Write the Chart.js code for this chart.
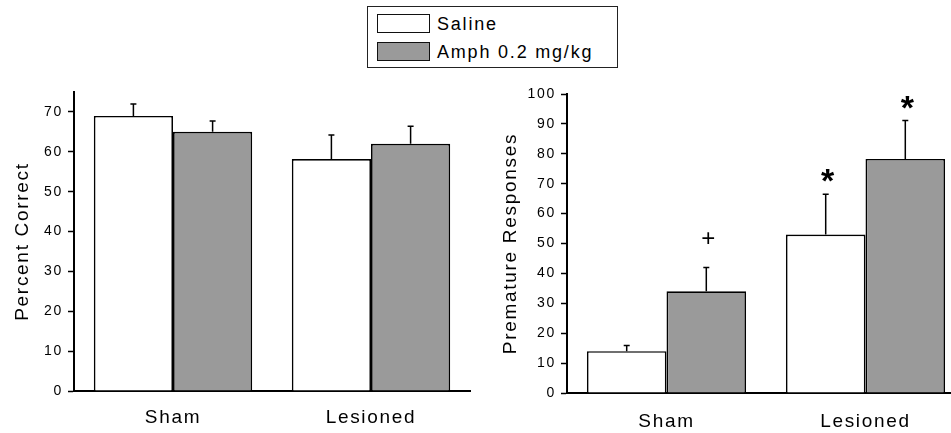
<!DOCTYPE html>
<html>
<head>
<meta charset="utf-8">
<script src="https://cdn.jsdelivr.net/npm/chart.js@4"></script>
<style>
  html, body { margin: 0; padding: 0; background: #fff; }
  body { width: 951px; height: 433px; overflow: hidden; position: relative; font-family: 'Liberation Sans', Arial, sans-serif; }
  canvas { position: absolute; top: 0; }
  #left { left: 0; }
  #right { left: 480px; }
  .legend { position: absolute; left: 367px; top: 6px; width: 249px; height: 60px; border: 1.5px solid #222; background: #fff; }
  .item { position: absolute; left: 9px; height: 20px; font-size: 18px; letter-spacing: 1.8px; color: #000; line-height: 20px; }
  .swatch { position: absolute; left: 0; top: 0; width: 51px; height: 17px; border: 1.5px solid #111; }
  .item span { position: absolute; left: 60px; top: 0; white-space: nowrap; }
</style>
</head>
<body>
<canvas id="left" width="475" height="433"></canvas>
<canvas id="right" width="500" height="433"></canvas>
<div class="legend" id="legend"></div>

<script>
// data
const groups = ['Sham', 'Lesioned'];
const seriesNames = ['Saline', 'Amph 0.2 mg/kg'];
const seriesColors = ['#ffffff', '#9a9a9a'];

// percent correct
const correctSaline = [69, 58.2];
const correctSalineErr = [3, 6];
const correctAmph = [65, 62];
const correctAmphErr = [2.7, 4.4];
const correctTicks = [0, 10, 20, 30, 40, 50, 60, 70];

// premature responses
const prematureSaline = [14, 53];
const prematureSalineErr = [1.9, 13.5];
const prematureAmph = [34, 78.3];
const prematureAmphErr = [8, 12.8];
const prematureTicks = [0, 10, 20, 30, 40, 50, 60, 70, 80, 90, 100];
const prematureSalineMarks = ['', '*'];
const prematureAmphMarks = ['+', '*'];

const FONT = "'Liberation Sans', Arial, sans-serif";

// legend (html)
const legend = document.getElementById('legend');
seriesNames.forEach((name, i) => {
  const item = document.createElement('div');
  item.className = 'item';
  item.style.top = (i === 0 ? 7 : 35) + 'px';
  item.innerHTML = '<div class="swatch" style="background:' + seriesColors[i] + '"></div><span>' + name + '</span>';
  legend.appendChild(item);
});

const markStyle = {
  '+': { font: '24px ' + FONT, lift: 21 },
  '*': { font: 'bold 34px ' + FONT, lift: 2 }
};

const errorBars = {
  id: 'errorBars',
  beforeDraw(chart) {
    chart.ctx.letterSpacing = '1.7px';
  },
  afterDatasetsDraw(chart) {
    const ctx = chart.ctx;
    const y = chart.scales.y;
    chart.data.datasets.forEach((ds, i) => {
      const meta = chart.getDatasetMeta(i);
      meta.data.forEach((bar, j) => {
        const top = y.getPixelForValue(ds.data[j] + ds.errors[j]);
        ctx.save();
        ctx.strokeStyle = '#000';
        ctx.lineWidth = 1.5;
        ctx.beginPath();
        ctx.moveTo(bar.x, bar.y);
        ctx.lineTo(bar.x, top);
        ctx.moveTo(bar.x - 3, top);
        ctx.lineTo(bar.x + 3, top);
        ctx.stroke();
        const m = ds.marks && ds.marks[j];
        if (m) {
          ctx.letterSpacing = '0px';
          ctx.fillStyle = '#000';
          ctx.font = markStyle[m].font;
          ctx.textAlign = 'center';
          ctx.textBaseline = 'alphabetic';
          ctx.fillText(m, bar.x + 2, top - markStyle[m].lift);
        }
        ctx.restore();
      });
    });
  }
};

function makeChart(id, yTitle, saline, salineErr, amph, amphErr, ticks, box) {
  return new Chart(document.getElementById(id), {
    type: 'bar',
    data: {
      labels: groups,
      datasets: [
        { label: seriesNames[0], data: saline, errors: salineErr, marks: box.salineMarks,
          backgroundColor: seriesColors[0], borderColor: '#000', borderWidth: 1.7,
          categoryPercentage: 0.8, barPercentage: 1.0 },
        { label: seriesNames[1], data: amph, errors: amphErr, marks: box.amphMarks,
          backgroundColor: seriesColors[1], borderColor: '#000', borderWidth: 1.7,
          categoryPercentage: 0.8, barPercentage: 1.0 }
      ]
    },
    options: {
      responsive: false,
      animation: false,
      layout: { padding: { left: 0, top: box.top, right: box.right, bottom: 0 } },
      plugins: { legend: { display: false }, tooltip: { enabled: false } },
      scales: {
        x: {
          grid: { display: false },
          border: { display: true, color: '#000', width: 2 },
          ticks: { color: '#000', padding: box.xPad, font: { family: FONT, size: 19 } },
          afterFit(scale) { scale.height = box.xHeight; }
        },
        y: {
          min: 0,
          max: box.max,
          grid: { drawOnChartArea: false, drawTicks: true, tickLength: 6, color: '#000', tickWidth: 1.5 },
          border: { display: true, color: '#000', width: 2 },
          ticks: { color: '#000', padding: 5, font: { family: FONT, size: 14 } },
          afterBuildTicks(scale) { scale.ticks = ticks.map(v => ({ value: v })); },
          title: { display: true, text: yTitle, color: '#000', padding: { top: box.titlePad, bottom: 0 },
                   font: { family: FONT, size: 19 } },
          afterFit(scale) { scale.width = box.yWidth; }
        }
      }
    },
    plugins: [errorBars]
  });
}

makeChart('left', 'Percent Correct', correctSaline, correctSalineErr, correctAmph, correctAmphErr, correctTicks,
  { max: 75, top: 92, right: 5, xHeight: 42, yWidth: 74, xPad: 7, titlePad: 11 });

makeChart('right', 'Premature Responses', prematureSaline, prematureSalineErr, prematureAmph, prematureAmphErr, prematureTicks,
  { max: 100, top: 94, right: 15, xHeight: 40, yWidth: 87, xPad: 9, titlePad: 19,
    salineMarks: prematureSalineMarks, amphMarks: prematureAmphMarks });
</script>
</body>
</html>
